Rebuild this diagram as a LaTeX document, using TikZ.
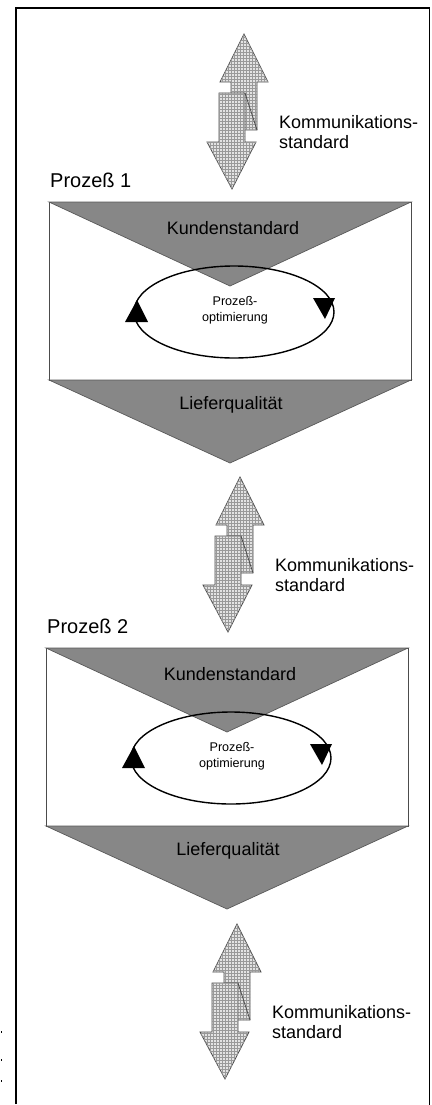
\documentclass[tikz,border=0pt]{standalone}
\usepackage{fontspec}
\setmainfont{Liberation Sans}
\usetikzlibrary{patterns}

\tikzset{
  frame/.style={line width=1.8pt, draw=black},
  hatched/.style={draw=black!70, line width=0.8pt, fill=gray!22,
    postaction={pattern=grid, pattern color=black!40}},
  foldline/.style={draw=black!70, line width=0.8pt},
  darktri/.style={fill=black!47, draw=black!65, line width=0.7pt},
  boxline/.style={draw=black!70, line width=0.9pt, fill=white},
  cycleline/.style={draw=black, line width=1.4pt},
  cycletip/.style={fill=black},
  kommtext/.style={font=\fontsize{18}{20.5}\selectfont, align=left, anchor=west, inner sep=0pt},
  proclabel/.style={font=\fontsize{20}{24}\selectfont, anchor=west, inner sep=0pt},
  tritext/.style={font=\fontsize{18}{22}\selectfont, inner sep=0pt},
  looptext/.style={font=\fontsize{12.6}{16}\selectfont, align=center, inner sep=0pt},
}

% double arrow "Kommunikationsstandard"; #1,#2 = tip of the upward arrow, #3 = name
\newcommand\kommpfeil[3]{%
  \begin{scope}[shift={(#1,#2)}]
    \draw[hatched] (0,0) -- (24,48) -- (13,48) -- (13,96) -- (-13,96)
      -- (-13,48) -- (-24,48) -- cycle;
    \draw[hatched] (-25,59) -- (1,59) -- (1,108) -- (12,108) -- (-12,155)
      -- (-37,108) -- (-25,108) -- cycle;
    \coordinate (#3-fa) at (1,59);
    \coordinate (#3-fb) at (13,96);
    \draw[foldline] (#3-fa) -- (#3-fb);
    \node[kommtext] (#3-text) at (35,98) {Kommunikations-\\standard};
  \end{scope}}

% process block; #1,#2 = offset, #3 = number
\newcommand\prozessblock[3]{%
  \begin{scope}[shift={(#1,#2)}]
    \node[proclabel] (p#3-label) at (50,180) {Prozeß #3};
    \draw[boxline] (49,202) rectangle (411,380);
    \draw[darktri] (49,202) -- (411,202) -- (230,286) -- cycle;
    \draw[darktri] (49,380) -- (411,380) -- (230,463) -- cycle;
    \node[tritext] (p#3-kunde) at (233,228) {Kundenstandard};
    \node[tritext] (p#3-liefer) at (231,405) {Lieferqualität};
    \draw[cycleline] (234,312) ellipse [x radius=100, y radius=46];
    \fill[cycletip] (125,322) -- (148,322) -- (137,300) -- cycle;
    \fill[cycletip] (313,298) -- (335,298) -- (325,319) -- cycle;
    \node[looptext] (p#3-opt) at (235,310) {Prozeß-\\optimierung};
  \end{scope}}

\begin{document}
\begin{tikzpicture}[x=1pt, y=-1pt]
  \useasboundingbox (0,0) rectangle (431,1105);
  \fill[white] (0,0) rectangle (431,1105);

  % page frame
  \draw[frame] (16,1104) -- (16,8) -- (429.5,8) -- (429.5,1106);

  % small marks at the left margin
  \foreach \yy in {1032,1060,1081} \fill (0.5,\yy-0.8) rectangle (2.3,\yy+0.8);

  \kommpfeil{244}{34}{k1}
  \prozessblock{0}{0}{1}
  \kommpfeil{240}{477}{k2}
  \prozessblock{-3}{446}{2}
  \kommpfeil{237}{924}{k3}
\end{tikzpicture}
\end{document}
